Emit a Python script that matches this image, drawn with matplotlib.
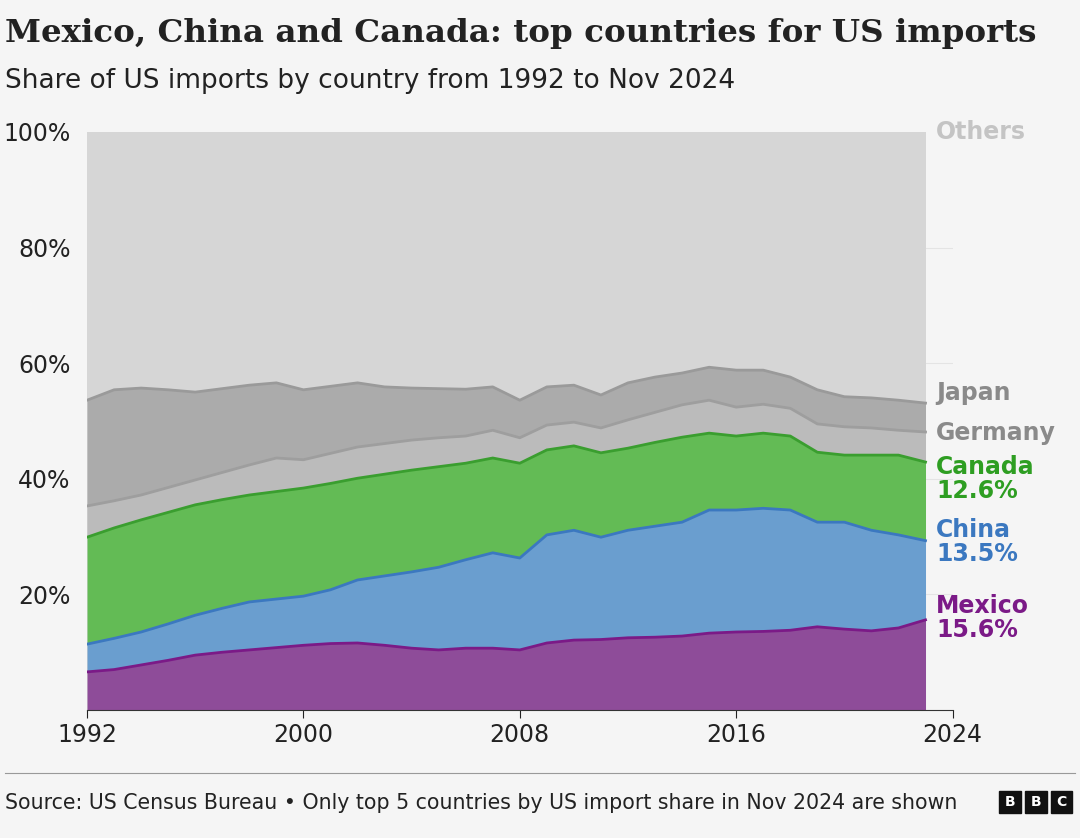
import matplotlib.pyplot as plt
from matplotlib.patches import Rectangle
import numpy as np

years = np.arange(1992, 2024)
# cumulative tops of each stacked band (% of US imports)
mexico_top = [6.6, 7.0, 7.8, 8.6, 9.5, 10.0, 10.4, 10.8, 11.2, 11.5, 11.6, 11.2, 10.7, 10.4, 10.7, 10.7,
              10.4, 11.6, 12.1, 12.2, 12.5, 12.6, 12.8, 13.3, 13.5, 13.6, 13.8, 14.4, 14.0, 13.7, 14.2, 15.6]
china_top = [11.4, 12.4, 13.5, 14.9, 16.4, 17.6, 18.7, 19.2, 19.7, 20.8, 22.5, 23.2, 23.9, 24.7, 26.0, 27.2,
             26.3, 30.3, 31.1, 29.9, 31.1, 31.8, 32.5, 34.6, 34.6, 34.9, 34.6, 32.5, 32.5, 31.1, 30.3, 29.3]
canada_top = [29.9, 31.5, 32.9, 34.2, 35.5, 36.4, 37.2, 37.8, 38.4, 39.2, 40.1, 40.8, 41.5, 42.1, 42.7, 43.6,
              42.7, 45.0, 45.7, 44.5, 45.3, 46.3, 47.2, 47.9, 47.4, 47.9, 47.4, 44.6, 44.1, 44.1, 44.1, 42.9]
germany_top = [35.3, 36.2, 37.2, 38.5, 39.8, 41.1, 42.4, 43.6, 43.3, 44.4, 45.5, 46.1, 46.7, 47.1, 47.4, 48.4,
               47.1, 49.3, 49.8, 48.8, 50.2, 51.5, 52.8, 53.6, 52.4, 52.9, 52.2, 49.5, 49.0, 48.8, 48.4, 48.1]
japan_top = [53.6, 55.4, 55.7, 55.4, 55.0, 55.6, 56.2, 56.6, 55.4, 56.0, 56.6, 55.9, 55.7, 55.6, 55.5, 55.9,
             53.6, 55.9, 56.2, 54.5, 56.6, 57.6, 58.3, 59.3, 58.8, 58.8, 57.6, 55.4, 54.2, 54.0, 53.6, 53.1]

bands = [
    ("Mexico", "15.6%", mexico_top, "#8E4C99", "#7B1A87", "#7B1A87"),
    ("China", "13.5%", china_top, "#6A9ECF", "#3B78C0", "#3B78C0"),
    ("Canada", "12.6%", canada_top, "#63BB55", "#3A9E2F", "#2E9E22"),
    ("Germany", None, germany_top, "#BBBBBB", "#9E9E9E", "#8A8A8A"),
    ("Japan", None, japan_top, "#ABABAB", "#9A9A9A", "#8A8A8A"),
]
label_y = {"Mexico": 16.0, "China": 29.0, "Canada": 40.0, "Germany": 48.0, "Japan": 54.8}

bg = "#F5F5F5"
fig = plt.figure(figsize=(10.8, 8.38), dpi=100)
fig.patch.set_facecolor(bg)
ax = fig.add_axes([0.0806, 0.1527, 0.8014, 0.6898])
ax.set_facecolor(bg)

ax.fill_between(years, 0, 100, color="#D6D6D6", lw=0)
lower = np.zeros(len(years))
for name, val, top, fc, lc, tc in bands:
    top = np.array(top)
    ax.fill_between(years, lower, top, color=fc, lw=0, zorder=2)
    ax.plot(years, top, color=lc, lw=2, zorder=3)
    lower = top

for y in [20, 40, 60, 80]:
    ax.axhline(y, color="#E4E4E4", lw=0.8, zorder=0)

ax.set_xlim(1992, 2024)
ax.set_ylim(0, 100)
ax.set_xticks([1992, 2000, 2008, 2016, 2024])
ax.set_yticks([20, 40, 60, 80, 100])
ax.set_yticklabels(["20%", "40%", "60%", "80%", "100%"])
ax.tick_params(axis="y", length=0, labelsize=17, colors="#222222", pad=12)
ax.tick_params(axis="x", length=6, labelsize=17, colors="#222222", direction="out")
for s in ["top", "right", "left"]:
    ax.spines[s].set_visible(False)
ax.spines["bottom"].set_color("#333333")

lx = 2023.4
ax.text(lx, 100, "Others", color="#C4C4C4", fontsize=17, fontweight="bold", va="center", clip_on=False)
for name, val, top, fc, lc, tc in bands:
    txt = name if val is None else f"{name}\n{val}"
    ax.text(lx, label_y[name], txt, color=tc, fontsize=17, fontweight="bold", va="center",
            linespacing=1.0, clip_on=False)

fig.text(0.005, 0.96, "Mexico, China and Canada: top countries for US imports", fontsize=23.4,
         fontweight="bold", family="DejaVu Serif", color="#222222", va="center")
fig.text(0.005, 0.903, "Share of US imports by country from 1992 to Nov 2024", fontsize=19,
         color="#222222", va="center")

fig.add_artist(plt.Line2D([0.005, 0.995], [0.077, 0.077], color="#999999", lw=0.8))
fig.text(0.005, 0.042, "Source: US Census Bureau \u2022 Only top 5 countries by US import share in Nov 2024 are shown",
         fontsize=14.8, color="#222222", va="center")
for i, ch in enumerate("BBC"):
    x0 = 0.925 + i * 0.024
    fig.add_artist(Rectangle((x0, 0.03), 0.02, 0.026, color="#111111", transform=fig.transFigure))
    fig.text(x0 + 0.01, 0.043, ch, color="white", fontsize=10, fontweight="bold", ha="center", va="center")

fig.savefig("out.png", dpi=100, facecolor=bg)
